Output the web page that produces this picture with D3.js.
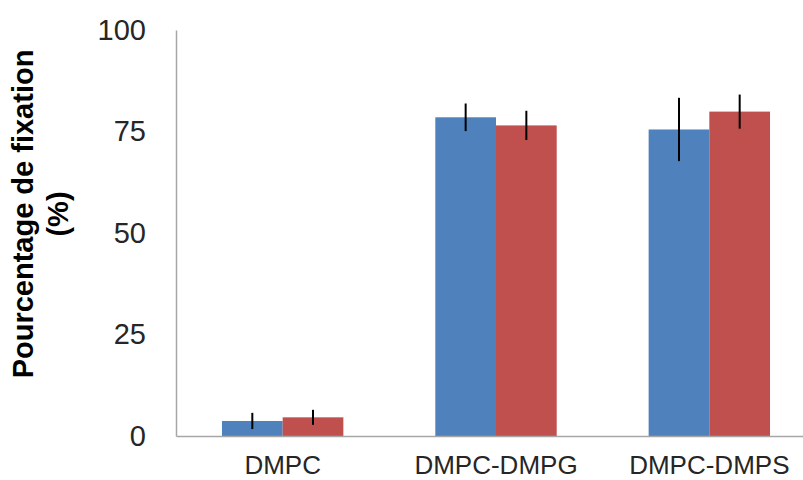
<!DOCTYPE html>
<html>
<head>
<meta charset="utf-8">
<script src="https://cdn.jsdelivr.net/npm/d3@7"></script>
<style>
  html, body { margin: 0; padding: 0; background: #fff; }
  svg { display: block; }
  text { font-family: Arial, "Liberation Sans", sans-serif; }
</style>
</head>
<body>
<svg id="chart" width="803" height="480"></svg>
<script>
const categories = ["DMPC", "DMPC-DMPG", "DMPC-DMPS"];
const seriesNames = ["Série 1", "Série 2"];
const seriesA = [3.7, 78.5, 75.5];
const seriesB = [4.6, 76.5, 79.9];
const errorsA = [2.0, 3.4, 7.8];
const errorsB = [1.85, 3.6, 4.2];
const yTicks = [0, 25, 50, 75, 100];
const colors = ["#4F81BD", "#C0504D"];
const yTitle = ["Pourcentage de fixation", "(%)"];

(function () {
const svg = d3.select("#chart");
const plotLeft = 176, plotTop = 30, plotBottom = 436, plotRightEnd = 816;

const y = d3.scaleLinear().domain([0, 100]).range([plotBottom, plotTop]);
const x0 = d3.scaleBand().domain(categories).range([plotLeft, plotRightEnd])
  .paddingInner(0.431).paddingOuter(0.2155);
const x1 = d3.scaleBand().domain(seriesNames).range([0, x0.bandwidth()]).padding(0);

const data = [];
categories.forEach((c, i) => {
  data.push({cat: c, s: seriesNames[0], v: seriesA[i], e: errorsA[i], color: colors[0]});
  data.push({cat: c, s: seriesNames[1], v: seriesB[i], e: errorsB[i], color: colors[1]});
});

// bars
svg.append("g").selectAll("rect").data(data).join("rect")
  .attr("x", d => x0(d.cat) + x1(d.s))
  .attr("y", d => y(d.v))
  .attr("width", x1.bandwidth())
  .attr("height", d => y(0) - y(d.v))
  .attr("fill", d => d.color);

// error bars
svg.append("g").selectAll("line").data(data).join("line")
  .attr("x1", d => x0(d.cat) + x1(d.s) + x1.bandwidth() / 2)
  .attr("x2", d => x0(d.cat) + x1(d.s) + x1.bandwidth() / 2)
  .attr("y1", d => y(d.v + d.e))
  .attr("y2", d => y(d.v - d.e))
  .attr("stroke", "#000")
  .attr("stroke-width", 2);

// y axis
const yAxis = d3.axisLeft(y).tickValues(yTicks).tickSize(0).tickPadding(30);
const gy = svg.append("g").attr("transform", `translate(${plotLeft},0)`).call(yAxis);
gy.select(".domain").attr("stroke", "#a6a6a6").attr("stroke-width", 1.5);
gy.selectAll("text").attr("font-size", 29).attr("fill", "#262626")
  .attr("font-family", "Arial, 'Liberation Sans', sans-serif");

// x axis
const xAxis = d3.axisBottom(x0).tickSize(0).tickPadding(20);
const gx = svg.append("g").attr("transform", `translate(0,${plotBottom})`).call(xAxis);
gx.select(".domain").attr("stroke", "#a6a6a6").attr("stroke-width", 1.5);
gx.selectAll("text").attr("font-size", 26).attr("fill", "#262626")
  .attr("font-family", "Arial, 'Liberation Sans', sans-serif");

// y title
const t = svg.append("text")
  .attr("transform", "translate(33,214) rotate(-90)")
  .attr("text-anchor", "middle")
  .attr("font-size", 29)
  .attr("font-weight", "bold")
  .attr("fill", "#000");
t.append("tspan").attr("x", 0).attr("y", 0).text(yTitle[0]);
t.append("tspan").attr("x", 0).attr("y", 35).text(yTitle[1]);
})();
</script>
</body>
</html>
